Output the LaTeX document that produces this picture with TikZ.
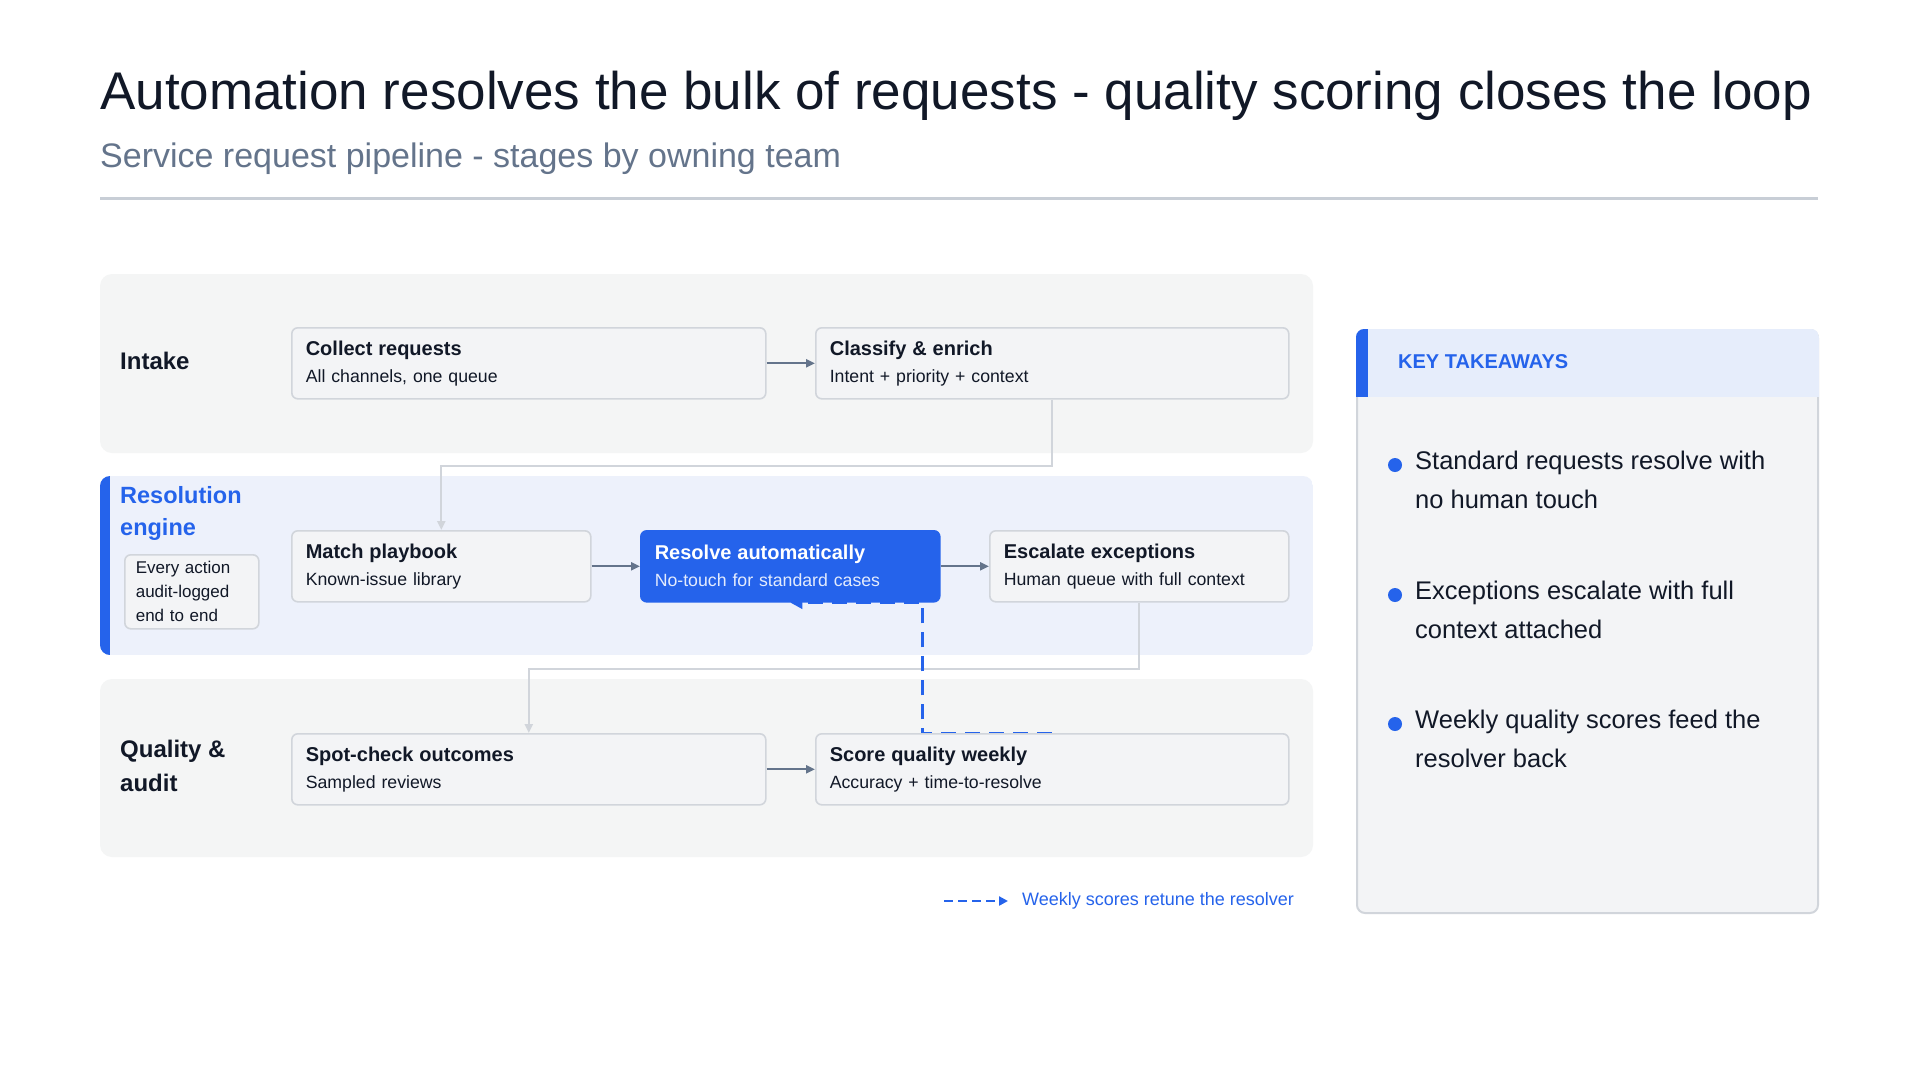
\documentclass[tikz,border=0pt]{standalone}
\usepackage{fontspec}
\setmainfont{Liberation Sans}
\usetikzlibrary{arrows.meta}
\definecolor{ink}{HTML}{111827}
\definecolor{subgray}{HTML}{64748B}
\definecolor{blu}{HTML}{2563EB}
\definecolor{lanegray}{HTML}{F4F5F5}
\definecolor{laneblue}{HTML}{EDF1FB}
\definecolor{nodefill}{HTML}{F3F4F6}
\definecolor{nodeline}{HTML}{D1D5DB}
\definecolor{arrowgray}{HTML}{64748B}
\definecolor{rulegray}{HTML}{C8CED6}
\definecolor{hdrblue}{HTML}{E6EDFB}
\definecolor{softwhite}{HTML}{E3EBFD}
\pgfdeclarelayer{bg}
\pgfdeclarelayer{mid}
\pgfsetlayers{bg,mid,main}
\newcommand\stgtxt[2]{{\fontsize{20}{27}\selectfont\bfseries #1}\\#2}
\tikzset{
  stage/.style={draw=nodeline, line width=1.6pt, fill=nodefill, rounded corners=6pt,
    anchor=north west, inner xsep=14pt, inner ysep=0pt, align=left, text=ink,
    minimum height=71pt, font=\fontsize{17.7}{27}\selectfont},
  stagehot/.style={stage, draw=blu, fill=blu, text=white},
  lanelabel/.style={anchor=west, inner sep=0pt, align=left, text=ink,
    font=\fontsize{24}{34}\selectfont\bfseries},
  flow/.style={draw=arrowgray, line width=2pt, -{Triangle[length=9pt,width=8pt]}},
  flowlight/.style={draw=nodeline, line width=2pt, -{Triangle[length=9pt,width=8pt]}},
  feedback/.style={draw=blu, line width=3pt, dash pattern=on 15pt off 9pt,
    -{Triangle[length=12pt,width=12pt]}},
  legenddash/.style={draw=blu, line width=2.5pt, dash pattern=on 9pt off 5pt,
    -{Triangle[length=9pt,width=9pt]}},
  bullettext/.style={anchor=west, inner sep=0pt, align=left, text=ink,
    font=\fontsize{25.5}{39}\selectfont},
  dot/.style={circle, fill=blu, inner sep=0pt, minimum size=14pt},
}
\begin{document}
\begin{tikzpicture}[x=1pt, y=-1pt]
\useasboundingbox (0,0) rectangle (1919,1080);

% lanes
\begin{pgfonlayer}{bg}
\fill[white] (0,0) rectangle (1919,1080);
\fill[lanegray, rounded corners=12pt] (100,274) rectangle (1313,453);
\begin{scope}
  \clip[rounded corners=10pt] (100,476) rectangle (1313,655);
  \fill[laneblue] (100,476) rectangle (1313,655);
  \fill[blu] (100,476) rectangle (110,655);
\end{scope}
\fill[lanegray, rounded corners=12pt] (100,679) rectangle (1313,857);
\end{pgfonlayer}

% header
\node[anchor=base west, inner sep=0pt, text=ink, font=\fontsize{53}{60}\selectfont] (title) at (100,109)
  {Automation resolves the bulk of requests - quality scoring closes the loop};
\node[anchor=base west, inner sep=0pt, text=subgray, font=\fontsize{34}{40}\selectfont] (subtitle) at (100,167)
  {Service request pipeline - stages by owning team};
\draw[rulegray, line width=3pt] (100,198) -- (1818,198);

\node[lanelabel] (lintake) at (120,361) {Intake};
\node[lanelabel, text=blu, font=\fontsize{23.5}{32}\selectfont\bfseries] (lres) at (120,513) {Resolution\\engine};
\node[lanelabel] (lqual) at (120,766) {Quality \&\\audit};

\node[draw=nodeline, line width=1.6pt, fill=nodefill, rounded corners=6pt, anchor=north west,
  minimum width=134pt, minimum height=74pt, text width=112pt, inner xsep=11pt, inner ysep=0pt,
  align=left, text=ink, font=\fontsize{17}{24}\selectfont] (note) at (124,554)
  {Every action\\audit-logged\\end to end};

% stages
\node[stage, text width=446pt] (collect) at (291,327) {\stgtxt{Collect requests}{All channels, one queue}};
\node[stage, text width=445pt] (classify) at (815,327) {\stgtxt{Classify \& enrich}{Intent + priority + context}};
\node[stage, text width=271pt] (match) at (291,530) {\stgtxt{Match playbook}{Known-issue library}};
\node[stagehot, text width=271pt] (resolve) at (640,530) {\stgtxt{Resolve automatically}{\textcolor{softwhite}{No-touch for standard cases}}};
\node[stage, text width=271pt] (escalate) at (989,530) {\stgtxt{Escalate exceptions}{Human queue with full context}};
\node[stage, text width=446pt] (spot) at (291,733) {\stgtxt{Spot-check outcomes}{Sampled reviews}};
\node[stage, text width=445pt] (score) at (815,733) {\stgtxt{Score quality weekly}{Accuracy + time-to-resolve}};

% connectors
\begin{pgfonlayer}{mid}
\draw[flowlight] (classify.south) -- ++(0,66) -| (match.north);
\draw[flowlight] (escalate.south) -- ++(0,66) -| (spot.north);
\coordinate (fbturn) at (922,733);
\draw[feedback] (score.north) -- (fbturn) |- (resolve.south);
\end{pgfonlayer}
\draw[flow] (collect) -- (classify);
\draw[flow] (match) -- (resolve);
\draw[flow] (resolve) -- (escalate);
\draw[flow] (spot) -- (score);

% legend
\coordinate (lgstart) at (944,901);
\node[anchor=west, inner sep=0pt, text=blu, font=\fontsize{18}{22}\selectfont] (lgtext) at (1022,901)
  {Weekly scores retune the resolver};
\draw[legenddash] (lgstart) -- ([xshift=-14pt]lgtext.west);

% takeaways panel
\fill[nodefill, rounded corners=8pt] (1357,330) rectangle (1818,913);
\draw[nodeline, line width=2pt, rounded corners=8pt] (1357,330) rectangle (1818,913);
\begin{scope}
  \clip[rounded corners=8pt] (1356,329) rectangle (1819,913);
  \fill[hdrblue] (1356,329) rectangle (1819,397);
  \fill[blu] (1356,329) rectangle (1368,397);
\end{scope}
\node[anchor=west, inner sep=0pt, text=blu, font=\fontsize{20}{24}\selectfont\bfseries] (keyhdr) at (1398,362) {KEY TAKEAWAYS};

\node[dot] (d1) at (1395,465) {};
\node[bullettext] (b1) at (1415,480) {Standard requests resolve with\\no human touch};
\node[dot] (d2) at (1395,595) {};
\node[bullettext] (b2) at (1415,610) {Exceptions escalate with full\\context attached};
\node[dot] (d3) at (1395,724) {};
\node[bullettext] (b3) at (1415,739) {Weekly quality scores feed the\\resolver back};
\end{tikzpicture}
\end{document}
